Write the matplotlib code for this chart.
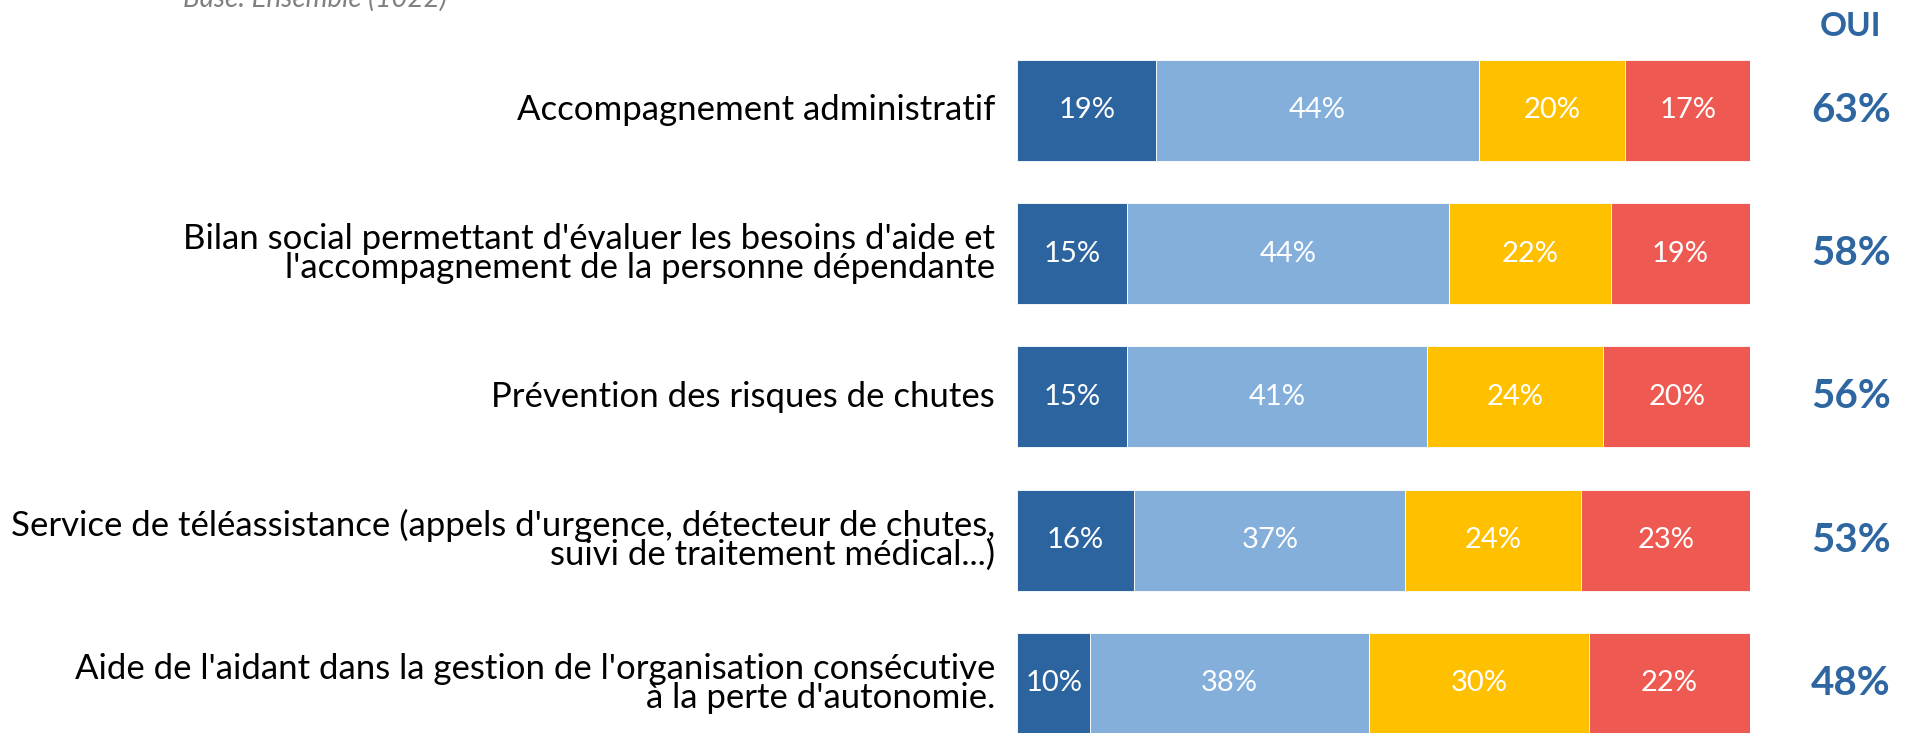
import matplotlib.pyplot as plt

# Data
categories = [
    "Accompagnement administratif",
    "Bilan social permettant d'évaluer les besoins d'aide et\nl'accompagnement de la personne dépendante",
    "Prévention des risques de chutes",
    "Service de téléassistance (appels d'urgence, détecteur de chutes,\nsuivi de traitement médical...)",
    "Aide de l'aidant dans la gestion de l'organisation consécutive\nà la perte d'autonomie.",
]
oui_certainement = [19, 15, 15, 16, 10]
oui_plutot = [44, 44, 41, 37, 38]
non_plutot = [20, 22, 24, 24, 30]
non_certainement = [17, 19, 20, 23, 22]
oui_total = [63, 58, 56, 53, 48]

series = [oui_certainement, oui_plutot, non_plutot, non_certainement]
colors = ['#2C64A0', '#84AFDB', '#FFC000', '#EE5A52']
oui_color = '#2E66A2'

plt.rcParams['font.family'] = ['Lato', 'DejaVu Sans']

W, H = 1908, 733
fig = plt.figure(figsize=(W / 100, H / 100), dpi=100)

# bar area spans x pixels 1017 -> 1750
x0, x1 = 1017, 1750
ax = fig.add_axes([x0 / W, 0, (x1 - x0) / W, 1])

row_top = 110.5   # pixel center of first row
row_step = 143.2  # pixel distance between rows
ax.set_ylim((H - row_top) / row_step, -row_top / row_step)
ax.set_xlim(0, 100)
ax.axis('off')

ypos = list(range(len(categories)))
left = [0] * len(categories)
for vals, col in zip(series, colors):
    ax.barh(ypos, vals, left=left, height=0.705, color=col,
            edgecolor='white', linewidth=0.6)
    for y, l, v in zip(ypos, left, vals):
        ax.text(l + v / 2, y, f"{v}%", ha='center', va='center',
                color='white', fontsize=21)
    left = [l + v for l, v in zip(left, vals)]

# category labels on the left
px_per_unit = (x1 - x0) / 100
for y, lab in zip(ypos, categories):
    ax.text(-22 / px_per_unit, y, lab, ha='right', va='center',
            multialignment='right', fontsize=25, color='black',
            linespacing=0.87, clip_on=False)

# OUI totals
oui_x = (1851 - x0) / px_per_unit
ax.text(oui_x, (26 - row_top) / row_step, "OUI", ha='center', va='center',
        fontsize=24, fontweight='bold', color=oui_color, clip_on=False)
for y, v in zip(ypos, oui_total):
    ax.text(oui_x, y, f"{v}%", ha='center', va='center', fontsize=29,
            fontweight='bold', color=oui_color, clip_on=False)

fig.text(183 / W, 1 - 7 / H, "Base: Ensemble (1022)", ha='left',
         va='baseline', fontsize=20, style='italic', color='#808080')

fig.savefig('out.png', dpi=100)
